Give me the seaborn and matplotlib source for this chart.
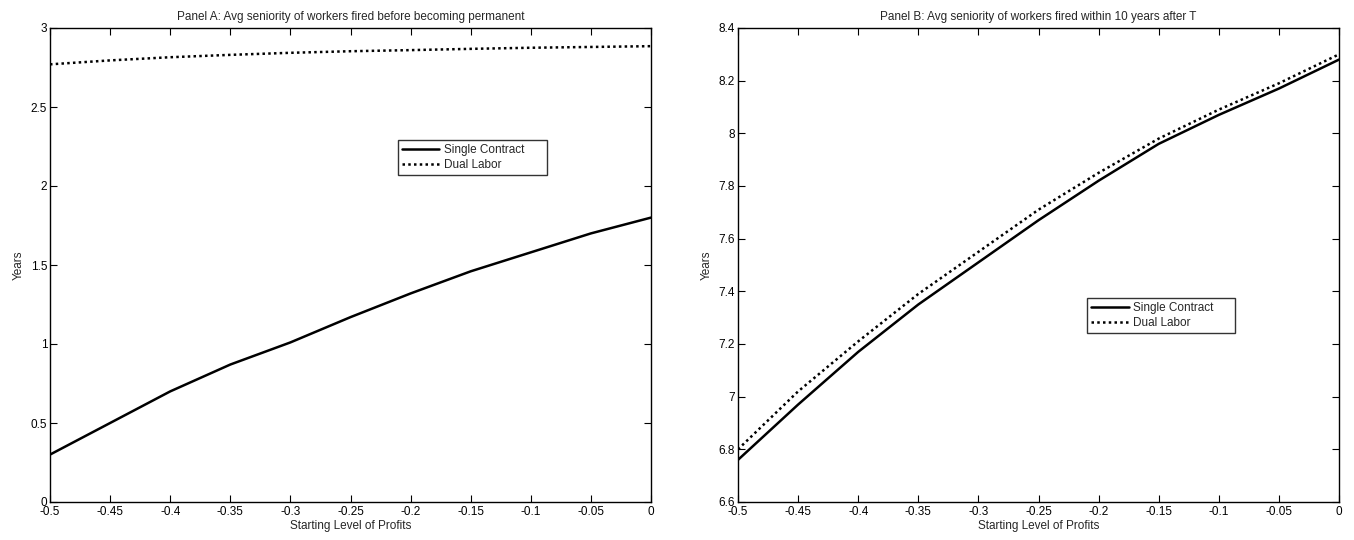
import matplotlib
matplotlib.use("Agg")
import matplotlib.pyplot as plt
import matplotlib.ticker as mticker
import seaborn as sns
import pandas as pd

sns.set_theme(style="white")
plt.rcParams['font.family'] = ['Liberation Sans', 'DejaVu Sans']

profits = [-0.5, -0.45, -0.4, -0.35, -0.3, -0.25, -0.2, -0.15, -0.1, -0.05, 0.0]

a_single = [0.30, 0.50, 0.70, 0.87, 1.01, 1.17, 1.32, 1.46, 1.58, 1.70, 1.80]
a_dual = [2.77, 2.795, 2.815, 2.83, 2.843, 2.853, 2.86, 2.868, 2.875, 2.88, 2.885]

b_single = [6.76, 6.97, 7.17, 7.35, 7.51, 7.67, 7.82, 7.96, 8.07, 8.17, 8.28]
b_dual = [6.80, 7.02, 7.21, 7.39, 7.55, 7.71, 7.85, 7.98, 8.09, 8.19, 8.30]

series_names = ["Single Contract", "Dual Labor"]
titles = ["Panel A: Avg seniority of workers fired before becoming permanent",
          "Panel B: Avg seniority of workers fired within 10 years after T"]
xlabel = "Starting Level of Profits"
ylabel = "Years"

def long_df(single, dual):
    return pd.DataFrame({
        "x": profits + profits,
        "y": single + dual,
        "series": [series_names[0]] * len(profits) + [series_names[1]] * len(profits),
    })

fig = plt.figure(figsize=(13.54, 5.4), dpi=100)
ax1 = fig.add_axes([50 / 1354, 38 / 540, 601 / 1354, 474 / 540])
ax2 = fig.add_axes([738 / 1354, 38 / 540, 601 / 1354, 474 / 540])

styles = {series_names[0]: "", series_names[1]: (1, 1.3)}

panels = [
    (ax1, long_df(a_single, a_dual), (0, 3), [0, 0.5, 1, 1.5, 2, 2.5, 3], (0.579, 0.69, 0.248, 0.088)),
    (ax2, long_df(b_single, b_dual), (6.6, 8.4), [6.6, 6.8, 7, 7.2, 7.4, 7.6, 7.8, 8, 8.2, 8.4], (0.581, 0.357, 0.246, 0.086)),
]

for i, (ax, df, ylim, yticks, lbox) in enumerate(panels):
    sns.lineplot(data=df, x="x", y="y", style="series", dashes=styles,
                 color="black", linewidth=1.8, ax=ax, legend=True)
    ax.set_xlim(-0.5, 0)
    ax.set_ylim(*ylim)
    ax.set_xticks(profits)
    ax.set_yticks(yticks)
    ax.xaxis.set_major_formatter(mticker.FormatStrFormatter('%g'))
    ax.yaxis.set_major_formatter(mticker.FormatStrFormatter('%g'))
    ax.tick_params(direction="in", length=5, width=0.8, top=True, right=True,
                   labelsize=8.5, colors="black", pad=3,
                   bottom=True, left=True)
    ax.tick_params(axis="y", pad=2)
    for sp in ax.spines.values():
        sp.set_color("black")
        sp.set_linewidth(1.0)
        sp.set_visible(True)
    ax.set_xlabel(xlabel, fontsize=8.5, labelpad=1)
    ax.set_ylabel(ylabel, fontsize=8.5, labelpad=4)
    ax.set_title(titles[i], fontsize=8.5, pad=6)
    handles, labels = ax.get_legend_handles_labels()
    for h in handles:
        h.set_color("black")
        h.set_linewidth(1.8)
    leg = ax.legend(handles, labels, loc="lower left", bbox_to_anchor=lbox,
                    mode="expand", frameon=True, fancybox=False, fontsize=8.5,
                    handlelength=3.2, handletextpad=0.4, borderpad=0.3,
                    labelspacing=0.3, borderaxespad=0)
    leg.get_frame().set_edgecolor("black")
    leg.get_frame().set_linewidth(1.0)

fig.savefig("out.png", dpi=100)
